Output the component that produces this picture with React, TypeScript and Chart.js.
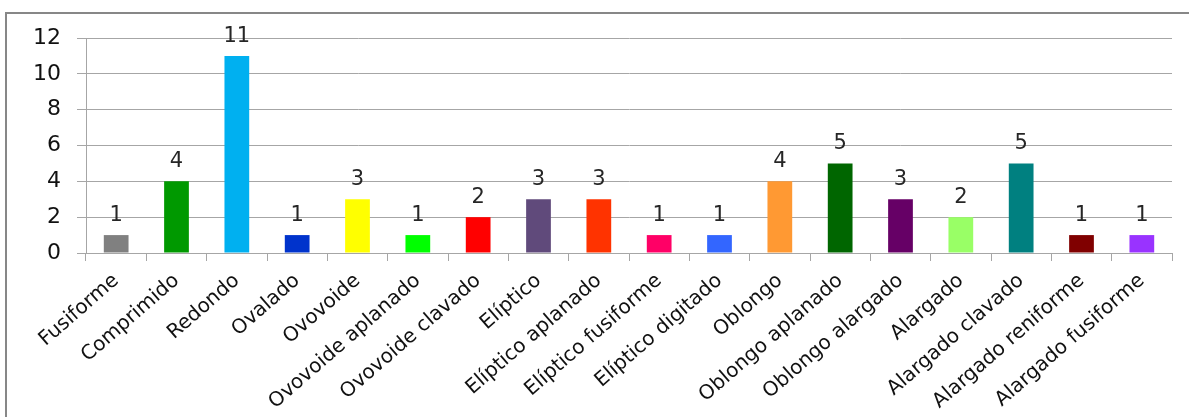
import React, { useEffect, useRef } from "react";
import { Chart, registerables } from "chart.js";

Chart.register(...registerables);

const categories: string[] = [
  "Fusiforme",
  "Comprimido",
  "Redondo",
  "Ovalado",
  "Ovovoide",
  "Ovovoide aplanado",
  "Ovovoide clavado",
  "Elíptico",
  "Elíptico aplanado",
  "Elíptico fusiforme",
  "Elíptico digitado",
  "Oblongo",
  "Oblongo aplanado",
  "Oblongo alargado",
  "Alargado",
  "Alargado clavado",
  "Alargado reniforme",
  "Alargado fusiforme",
];

const counts: number[] = [1, 4, 11, 1, 3, 1, 2, 3, 3, 1, 1, 4, 5, 3, 2, 5, 1, 1];

const barColors: string[] = [
  "#808080",
  "#009900",
  "#00B0F0",
  "#0033CC",
  "#FFFF00",
  "#00FF00",
  "#FF0000",
  "#604A7B",
  "#FF3300",
  "#FF0066",
  "#3366FF",
  "#FF9933",
  "#006600",
  "#660066",
  "#99FF66",
  "#008080",
  "#800000",
  "#9933FF",
];

const yTicks: number[] = [0, 2, 4, 6, 8, 10, 12];

const FONT = "'DejaVu Sans', sans-serif";
const GRID = "#A6A6A6";

// Writes each bar's count just above its top.
const valueLabels = {
  id: "valueLabels",
  afterDatasetsDraw(chart: any) {
    const ctx = chart.ctx;
    const meta = chart.getDatasetMeta(0);
    const data = chart.data.datasets[0].data as number[];
    ctx.save();
    ctx.font = `21px ${FONT}`;
    ctx.fillStyle = "#262626";
    ctx.textAlign = "center";
    ctx.textBaseline = "alphabetic";
    meta.data.forEach((bar: any, i: number) => {
      ctx.fillText(String(data[i]), bar.x, bar.y - 14);
    });
    ctx.restore();
  },
};

export default function App() {
  const canvasRef = useRef<HTMLCanvasElement | null>(null);

  useEffect(() => {
    if (!canvasRef.current) return;
    const chart = new Chart(canvasRef.current, {
      type: "bar",
      data: {
        labels: categories,
        datasets: [
          {
            data: counts,
            backgroundColor: barColors,
            borderWidth: 0,
            barPercentage: 0.41,
            categoryPercentage: 1,
          },
        ],
      },
      options: {
        responsive: false,
        animation: false,
        layout: { padding: { left: 0, top: 38, right: 17, bottom: 0 } },
        plugins: {
          legend: { display: false },
          tooltip: { enabled: false },
        },
        scales: {
          x: {
            grid: {
              display: true,
              offset: true,
              drawOnChartArea: false,
              drawTicks: true,
              tickLength: 8,
              color: GRID,
            },
            border: { display: true, color: GRID, width: 1 },
            ticks: {
              autoSkip: false,
              minRotation: 41,
              maxRotation: 41,
              padding: 8,
              color: "#111111",
              font: { family: FONT, size: 20 },
            },
            afterFit(scale: any) {
              scale.height = 164;
            },
          },
          y: {
            min: 0,
            max: 12,
            afterBuildTicks(scale: any) {
              scale.ticks = yTicks.map((v) => ({ value: v }));
            },
            grid: {
              color: GRID,
              drawTicks: true,
              tickLength: 9,
            },
            border: { display: true, color: GRID, width: 1 },
            ticks: {
              padding: 16,
              color: "#111111",
              font: { family: FONT, size: 22 },
            },
            afterFit(scale: any) {
              scale.width = 86;
            },
          },
        },
      },
      plugins: [valueLabels],
    });
    return () => chart.destroy();
  }, []);

  return (
    <div
      style={{
        position: "absolute",
        left: 0,
        top: 0,
        width: 1189,
        height: 417,
        overflow: "hidden",
        background: "#ffffff",
      }}
    >
      <div
        style={{
          position: "absolute",
          left: 5,
          top: 12,
          width: 1300,
          height: 500,
          border: "2px solid #878787",
          boxSizing: "border-box",
        }}
      />
      <canvas
        ref={canvasRef}
        width={1189}
        height={417}
        style={{ position: "absolute", left: 0, top: 0, display: "block" }}
      />
    </div>
  );
}
